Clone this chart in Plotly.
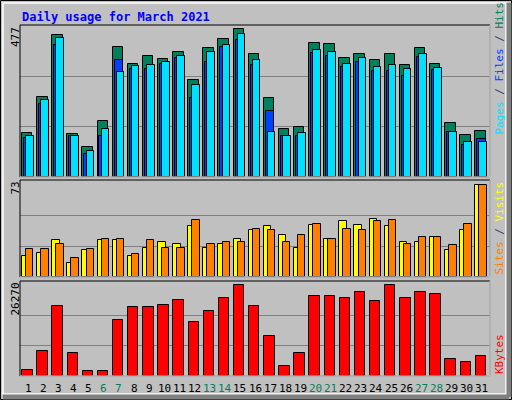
import plotly.graph_objects as go

days = list(range(1, 32))
weekend = [6, 7, 13, 14, 20, 21, 27, 28]
hits = [140, 254, 450, 137, 96, 178, 409, 358, 383, 374, 396, 307, 406, 437, 466, 390, 248, 153, 159, 424, 421, 377, 390, 371, 387, 355, 406, 358, 169, 133, 146]
files = [124, 229, 418, 130, 74, 130, 368, 342, 342, 358, 377, 248, 364, 411, 434, 355, 210, 130, 130, 393, 383, 348, 364, 336, 336, 320, 380, 339, 143, 102, 121]
pages = [130, 244, 440, 130, 83, 152, 333, 352, 355, 364, 383, 292, 396, 418, 453, 371, 143, 130, 140, 402, 396, 358, 377, 348, 355, 342, 387, 345, 143, 111, 111]
sites = [17, 19, 29, 11, 21, 29, 29, 17, 23, 28, 26, 40, 23, 26, 30, 37, 40, 33, 23, 41, 30, 44, 41, 46, 40, 28, 28, 32, 21, 37, 73]
visits = [22, 22, 26, 15, 22, 30, 30, 18, 29, 23, 23, 45, 26, 28, 28, 38, 37, 28, 33, 42, 30, 38, 37, 44, 45, 26, 32, 32, 25, 42, 73]
kbytes = [1790, 7290, 20230, 6710, 1500, 1500, 16200, 19940, 19940, 20520, 21960, 15630, 18790, 22530, 26270, 20230, 11600, 2970, 6710, 23100, 23100, 22530, 24250, 21670, 26270, 22530, 24250, 23670, 4990, 4120, 5840]
max_hits, max_sites, max_kb = 477, 73, 26270

W, H = 512, 400
BG = "#C0C0C0"
fig = go.Figure()

def bar(y, off, w, color, xa, ya):
    fig.add_trace(go.Bar(x=days, y=y, offset=off, width=w, marker=dict(color=color, line=dict(color="black", width=1)),
                         xaxis=xa, yaxis=ya, showlegend=False, hoverinfo="skip"))

bar(hits, -0.42, 0.69, "#00805C", "x", "y")
bar(files, -0.29, 0.55, "#0040FF", "x", "y")
bar(pages, -0.15, 0.5, "#00E0FF", "x", "y")
bar(sites, -0.42, 0.5, "#FFFF00", "x2", "y2")
bar(visits, -0.15, 0.49, "#FF8000", "x2", "y2")
bar(kbytes, -0.40, 0.69, "#FF0000", "x3", "y3")

def ydom(t, b):
    return [1 - b / H, 1 - t / H]

xd = [20 / W, 490 / W]
xr = [0.45, 31.55]
common_x = dict(range=xr, domain=xd, showgrid=False, zeroline=False, fixedrange=True, showticklabels=False, ticks="")
panels = [(25, 177, 480, max_hits, "y", "x"), (180, 277, 76.7, max_sites, "y2", "x2"), (281, 376, 27330, max_kb, "y3", "x3")]
lay = {}
for i, (t, b, rmax, mx, ya, xa) in enumerate(panels):
    ykey = "yaxis" if i == 0 else f"yaxis{i+1}"
    xkey = "xaxis" if i == 0 else f"xaxis{i+1}"
    lay[ykey] = dict(domain=ydom(t, b), range=[0, rmax], tickvals=[mx / 3, 2 * mx / 3], showticklabels=False,
                     gridcolor="#808080", gridwidth=1, zeroline=False, anchor=xa, fixedrange=True)
    lay[xkey] = dict(common_x, anchor=ya)
    fig.add_shape(type="rect", xref="paper", yref="paper", x0=20 / W, x1=490 / W, y0=1 - b / H, y1=1 - t / H,
                  line=dict(color="black", width=1), layer="above")
    fig.add_shape(type="line", xref="paper", yref="paper", x0=20 / W, x1=490 / W, y0=1 - b / H, y1=1 - b / H,
                  line=dict(color="white", width=1), layer="above")
    fig.add_shape(type="line", xref="paper", yref="paper", x0=490 / W, x1=490 / W, y0=1 - b / H, y1=1 - t / H,
                  line=dict(color="white", width=1), layer="above")
    fig.add_annotation(text=str(mx), xref="paper", yref="paper", x=15 / W, y=1 - t / H, xanchor="center", yanchor="top",
                       textangle=-90, showarrow=False, font=dict(family="DejaVu Sans Mono", size=11, color="black"))

for d in days:
    fig.add_annotation(text=str(d), xref="x3", yref="paper", x=d, y=1 - 388 / H, xanchor="center", yanchor="middle",
                       showarrow=False, font=dict(family="DejaVu Sans Mono", size=11,
                                                  color="#00805C" if d in weekend else "black"))

def side(text, b):
    fig.add_annotation(text=text, xref="paper", yref="paper", x=499 / W, y=1 - b / H, xanchor="center", yanchor="bottom",
                       textangle=-90, showarrow=False, font=dict(family="DejaVu Sans Mono", size=11))

side('<span style="color:#00E0FF">Pages</span> / <span style="color:#0040FF">Files</span> / <span style="color:#00805C">Hits</span>', 137)
side('<span style="color:#FF8000">Sites</span> / <span style="color:#FFFF00">Visits</span>', 277)
side('<span style="color:#FF0000">KBytes</span>', 376)

fig.add_annotation(text="<b>Daily usage for March 2021</b>", xref="paper", yref="paper", x=20 / W, y=1 - 8 / H,
                   xanchor="left", yanchor="top", showarrow=False, font=dict(family="DejaVu Sans Mono", size=12, color="#0000FF"))

fig.add_shape(type="rect", xref="paper", yref="paper", x0=0.5 / W, x1=1 - 0.5 / W, y0=0.5 / H, y1=1 - 0.5 / H,
              line=dict(color="black", width=1), layer="above")
fig.add_shape(type="rect", xref="paper", yref="paper", x0=3 / W, x1=1 - 6 / W, y0=6 / H, y1=1 - 3 / H,
              line=dict(color="white", width=1.5), layer="above")
fig.add_shape(type="line", xref="paper", yref="paper", x0=3 / W, x1=1 - 3 / W, y0=3 / H, y1=3 / H,
              line=dict(color="#808080", width=5), layer="above")
fig.add_shape(type="line", xref="paper", yref="paper", x0=1 - 3 / W, x1=1 - 3 / W, y0=3 / H, y1=1 - 3 / H,
              line=dict(color="#808080", width=5), layer="above")

fig.update_layout(width=W, height=H, margin=dict(l=0, r=0, t=0, b=0), paper_bgcolor=BG, plot_bgcolor=BG,
                  barmode="overlay", bargap=0, **lay)
fig.write_html("out.html", config={"displayModeBar": False},
               post_script="document.body.style.margin='0';document.body.style.overflow='hidden';")
